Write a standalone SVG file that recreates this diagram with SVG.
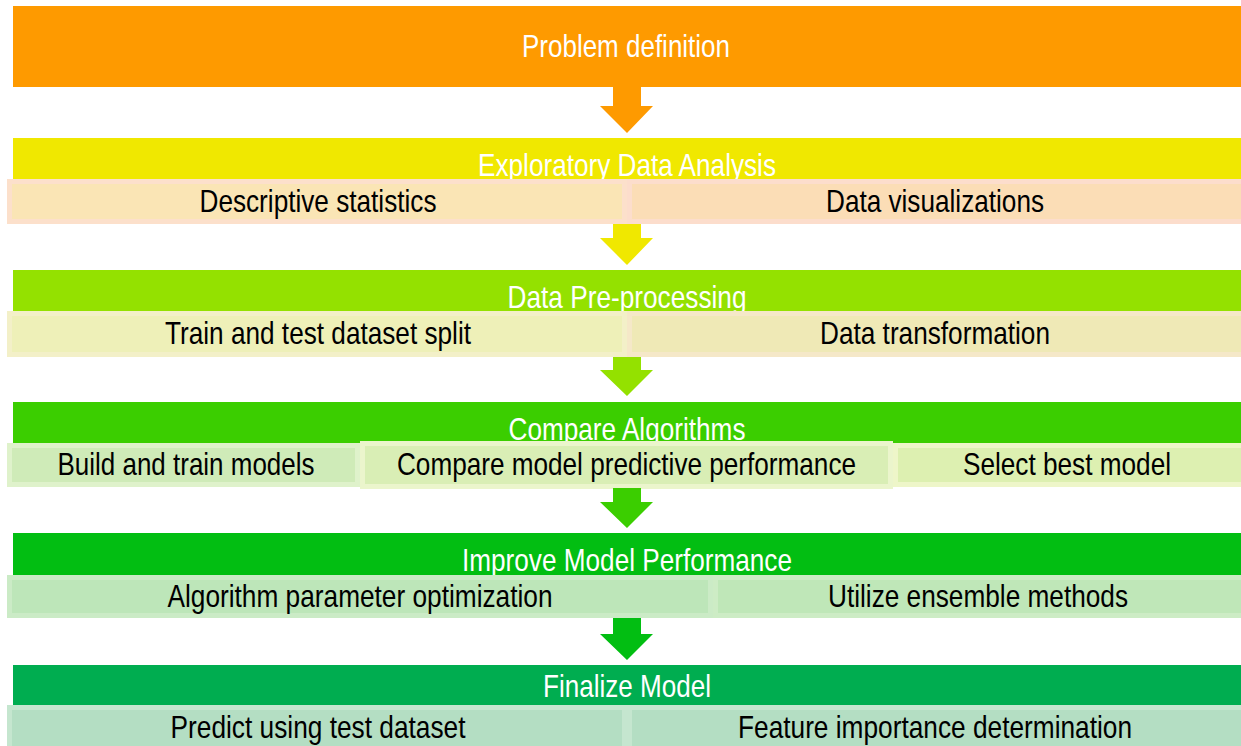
<svg xmlns="http://www.w3.org/2000/svg" width="1241" height="746" viewBox="0 0 1241 746">
<style>
.hdr{font-family:"Liberation Sans",Arial,sans-serif;font-size:31.5px;fill:#ffffff;text-anchor:middle}
.sub{font-family:"Liberation Sans",Arial,sans-serif;font-size:31.5px;fill:#000000;text-anchor:middle}
.sb{stroke-width:5}
</style>
<rect x="0" y="0" width="1241" height="746" fill="#ffffff"/>
<g id="problem-definition">
<rect x="13" y="6" width="1228" height="81" fill="#FE9A00"/>
<text class="hdr" x="626" y="57" textLength="208" lengthAdjust="spacingAndGlyphs">Problem definition</text>
</g>
<g id="eda">
<rect x="13" y="138" width="1228" height="42" fill="#F0E800"/>
<text class="hdr" x="627" y="176" textLength="298" lengthAdjust="spacingAndGlyphs">Exploratory Data Analysis</text>
<rect class="sb" x="9.5" y="181.5" width="615" height="40" fill="#FAE5B5" stroke="#FCE0CB"/>
<rect class="sb" x="629.5" y="181.5" width="615" height="40" fill="#FBDDB6" stroke="#FCDDCC"/>
<text class="sub" x="318" y="212" textLength="237" lengthAdjust="spacingAndGlyphs">Descriptive statistics</text>
<text class="sub" x="935" y="212" textLength="218" lengthAdjust="spacingAndGlyphs">Data visualizations</text>
</g>
<g id="preprocessing">
<rect x="13" y="270" width="1228" height="42" fill="#94E100"/>
<text class="hdr" x="627" y="308" textLength="239" lengthAdjust="spacingAndGlyphs">Data Pre-processing</text>
<rect class="sb" x="9.5" y="313.5" width="615" height="41" fill="#EEF0B8" stroke="#F3F0C8"/>
<rect class="sb" x="629.5" y="313.5" width="615" height="41" fill="#EFE9B6" stroke="#F5E8C8"/>
<text class="sub" x="318" y="344" textLength="306" lengthAdjust="spacingAndGlyphs">Train and test dataset split</text>
<text class="sub" x="935" y="344" textLength="230" lengthAdjust="spacingAndGlyphs">Data transformation</text>
</g>
<g id="compare-algorithms">
<rect x="13" y="402" width="1228" height="42" fill="#3BCE00"/>
<text class="hdr" x="627" y="440" textLength="237" lengthAdjust="spacingAndGlyphs">Compare Algorithms</text>
<rect class="sb" x="9.5" y="445.5" width="348" height="39" fill="#CFEBB8" stroke="#DFF2CB"/>
<rect class="sb" x="895.5" y="445.5" width="350" height="39" fill="#DDF0B1" stroke="#EEF6C9"/>
<rect class="sb" x="362.5" y="443.5" width="528" height="43" fill="#D9EEB5" stroke="#EBF5CC"/>
<text class="sub" x="186" y="475" textLength="257" lengthAdjust="spacingAndGlyphs">Build and train models</text>
<text class="sub" x="626.5" y="475" textLength="459" lengthAdjust="spacingAndGlyphs">Compare model predictive performance</text>
<text class="sub" x="1067" y="475" textLength="208" lengthAdjust="spacingAndGlyphs">Select best model</text>
</g>
<g id="improve-model-performance">
<rect x="13" y="533" width="1228" height="43" fill="#02BE12"/>
<text class="hdr" x="627" y="571" textLength="330" lengthAdjust="spacingAndGlyphs">Improve Model Performance</text>
<rect class="sb" x="9.5" y="577.5" width="701" height="38" fill="#BDE6B9" stroke="#CBEBC6"/>
<rect class="sb" x="715.5" y="577.5" width="529" height="38" fill="#BFE7B8" stroke="#CDECC5"/>
<text class="sub" x="360" y="607" textLength="385" lengthAdjust="spacingAndGlyphs">Algorithm parameter optimization</text>
<text class="sub" x="978" y="607" textLength="300" lengthAdjust="spacingAndGlyphs">Utilize ensemble methods</text>
</g>
<g id="finalize-model">
<rect x="13" y="665" width="1228" height="41" fill="#00AD50"/>
<text class="hdr" x="627" y="697" textLength="168" lengthAdjust="spacingAndGlyphs">Finalize Model</text>
<rect class="sb" x="9.5" y="707.5" width="615" height="41" fill="#B4DEC3" stroke="#C5E6CF"/>
<rect class="sb" x="629.5" y="707.5" width="615" height="41" fill="#B4DEC3" stroke="#C5E6CF"/>
<text class="sub" x="318" y="738" textLength="295" lengthAdjust="spacingAndGlyphs">Predict using test dataset</text>
<text class="sub" x="935" y="738" textLength="394" lengthAdjust="spacingAndGlyphs">Feature importance determination</text>
</g>
<g id="connectors">
<polygon points="613,87 641,87 641,106 653,106 627,133 600,106 613,106" fill="#FE9A00"/>
<polygon points="613,224 641,224 641,238 653,238 627,265 600,238 613,238" fill="#F0E800"/>
<polygon points="613,357 641,357 641,370 653,370 627,396 600,370 613,370" fill="#94E100"/>
<polygon points="613,488 641,488 641,502 653,502 627,528 600,502 613,502" fill="#3BCE00"/>
<polygon points="613,618 641,618 641,634 653,634 627,660 600,634 613,634" fill="#02BE12"/>
</g>
</svg>
